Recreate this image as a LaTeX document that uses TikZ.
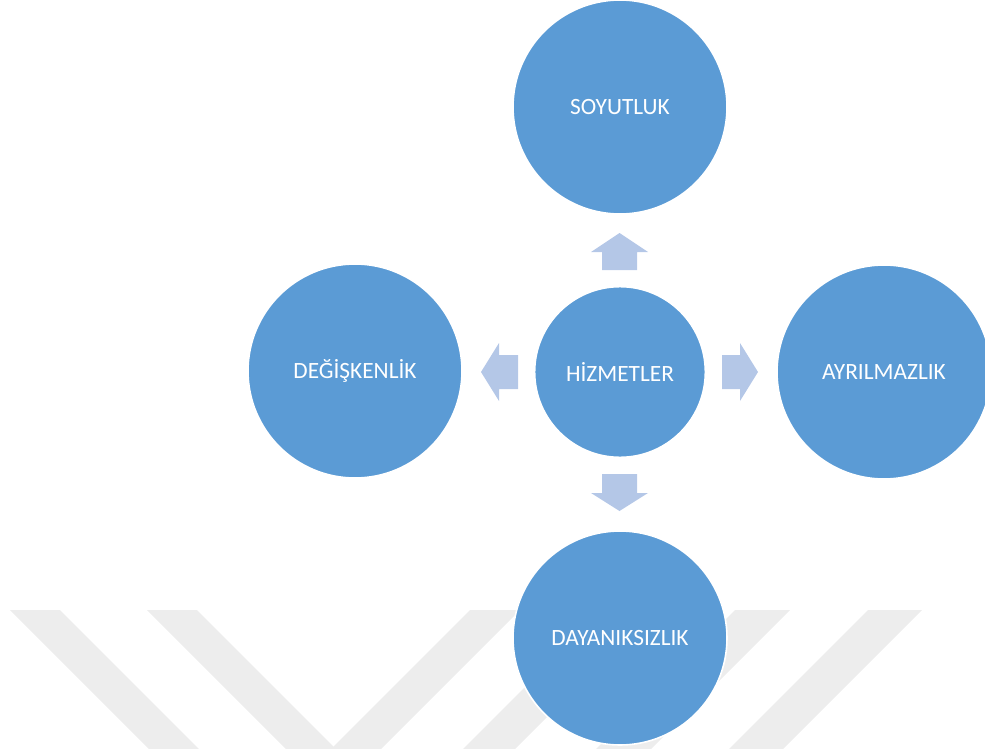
\documentclass[tikz,border=0pt]{standalone}
\usepackage{fontspec}
\setmainfont{Carlito}
\definecolor{circblue}{HTML}{5B9BD5}
\definecolor{arrblue}{HTML}{B4C7E7}
\definecolor{wmgray}{HTML}{EDEDED}
\begin{document}
\begin{tikzpicture}[x=0.75pt,y=-0.75pt,
  bubble/.style={circle,fill=circblue,draw=white,line width=1.2pt,inner sep=0pt,
    text=white,font=\fontsize{17.5}{20}\selectfont},
  bigbubble/.style={bubble,minimum size=160.5pt},
  hubbubble/.style={bubble,minimum size=128pt},
  blockarrow/.style={fill=arrblue,draw=none},
  stripe/.style={fill=wmgray,draw=none}]
\useasboundingbox (0,0) rectangle (985,749);
\clip (0,0) rectangle (985,749);
% watermark stripes
\foreach \a/\w in {10/50,147/50}
  \fill[stripe] (\a,610) -- (\a+\w,610) -- (\a+\w+150,760) -- (\a+150,760) -- cycle;
\foreach \a/\w in {470/50,602/52,735/55,868/54}
  \fill[stripe] (\a,610) -- (\a+\w,610) -- (\a+\w-150,760) -- (\a-150,760) -- cycle;
% nodes
\node[hubbubble] (hub) at (620,372) {HİZMETLER};
\node[bigbubble] (top) at (620,107) {SOYUTLUK};
\node[bigbubble] (left) at (355,371) {DEĞİŞKENLİK};
\node[bigbubble] (right) at (884,372) {AYRILMAZLIK};
\node[bigbubble] (bottom) at (620,638) {DAYANIKSIZLIK};
% block arrows
\fill[blockarrow] (602,270) -- (602,252) -- (591,252) -- (619.5,233) -- (648,252) -- (637,252) -- (637,270) -- cycle;
\fill[blockarrow] (602,474) -- (602,493) -- (591,493) -- (619.5,511) -- (648,493) -- (637,493) -- (637,474) -- cycle;
\fill[blockarrow] (518,355) -- (499,355) -- (499,343) -- (481,372) -- (499,401) -- (499,389) -- (518,389) -- cycle;
\fill[blockarrow] (722,355) -- (740,355) -- (740,343) -- (758,372) -- (740,401) -- (740,389) -- (722,389) -- cycle;
\end{tikzpicture}
\end{document}
